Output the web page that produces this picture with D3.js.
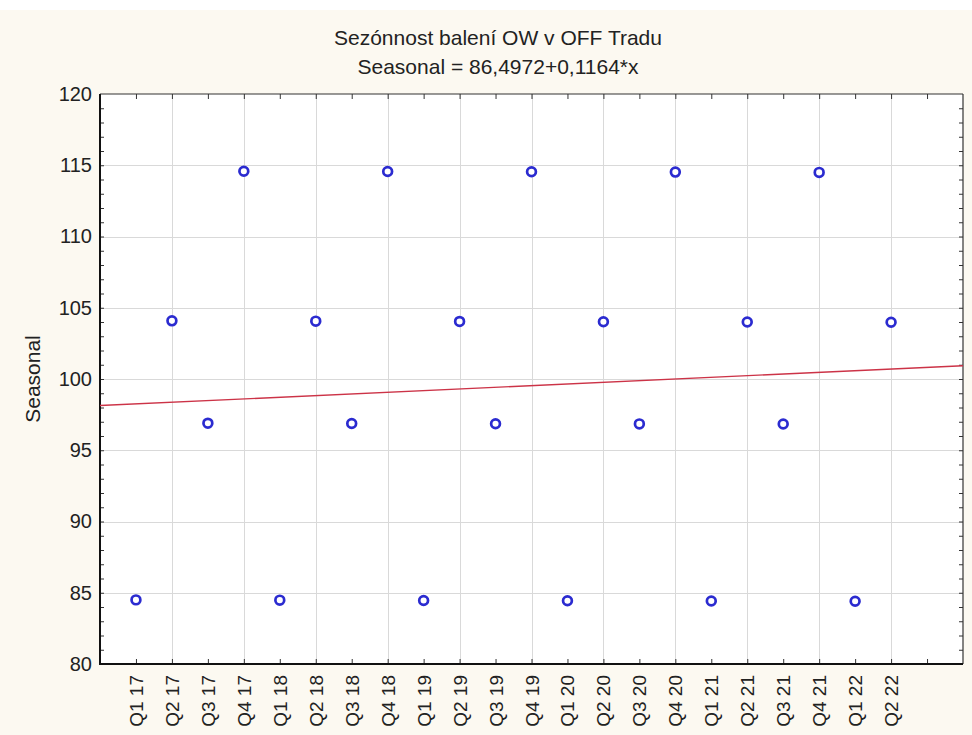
<!DOCTYPE html>
<html>
<head>
<meta charset="utf-8">
<script src="https://cdn.jsdelivr.net/npm/d3@7"></script>
<style>
  html, body { margin: 0; padding: 0; background: #ffffff; }
  svg { display: block; font-family: "Liberation Sans", Arial, sans-serif; }
</style>
</head>
<body>
<svg id="chart" width="972" height="735"></svg>
<script>
// Quarter labels along the x axis
const categories = [
  "Q1 17", "Q2 17", "Q3 17", "Q4 17",
  "Q1 18", "Q2 18", "Q3 18", "Q4 18",
  "Q1 19", "Q2 19", "Q3 19", "Q4 19",
  "Q1 20", "Q2 20", "Q3 20", "Q4 20",
  "Q1 21", "Q2 21", "Q3 21", "Q4 21",
  "Q1 22", "Q2 22"
];

// Seasonal index per quarter
const seasonal = [
  84.50, 104.08, 96.90, 114.58,
  84.48, 104.06, 96.88, 114.56,
  84.46, 104.04, 96.86, 114.54,
  84.44, 104.02, 96.85, 114.52,
  84.42, 104.00, 96.84, 114.50,
  84.40, 103.98
];

// Linear fit: Seasonal = intercept + slope * x, x = case number
const fitIntercept = 86.4972;
const fitSlope = 0.1164;
const caseOffset = 100;   // case number of the slot before the first quarter

const yTicks = [80, 85, 90, 95, 100, 105, 110, 115, 120];
const titleLines = ["Sezónnost balení OW v OFF Tradu", "Seasonal = 86,4972+0,1164*x"];
const yTitle = "Seasonal";

const svg = d3.select("#chart");
const W = 972, H = 735;
const m = { left: 100, right: 963, top: 94, bottom: 664 };

// Page backdrop
svg.append("rect").attr("width", W).attr("height", H).attr("fill", "#ffffff");
svg.append("rect").attr("x", 0).attr("y", 10).attr("width", W).attr("height", H - 10)
  .attr("fill", "#fcf9f1");

const nSlots = categories.length + 2;
const x = d3.scaleLinear().domain([0, nSlots]).range([m.left, m.right]);
const y = d3.scaleLinear().domain([80, 120]).range([m.bottom, m.top]);

// Plot area
svg.append("rect")
  .attr("x", m.left).attr("y", m.top)
  .attr("width", m.right - m.left).attr("height", m.bottom - m.top)
  .attr("fill", "#ffffff");

// Grid
const grid = svg.append("g").attr("stroke", "#d9d9d9").attr("stroke-width", 1);
grid.selectAll("line.h").data(yTicks.slice(1, -1)).join("line")
  .attr("x1", m.left).attr("x2", m.right)
  .attr("y1", d => Math.round(y(d)) + 0.5).attr("y2", d => Math.round(y(d)) + 0.5);
const vGrid = d3.range(2, categories.length + 1, 2);
grid.selectAll("line.v").data(vGrid).join("line")
  .attr("y1", m.top).attr("y2", m.bottom)
  .attr("x1", d => Math.round(x(d)) + 0.5).attr("x2", d => Math.round(x(d)) + 0.5);

// Axes (inward ticks)
const slotTicks = d3.range(1, nSlots);
const minorY = d3.range(81, 120);

const leftAx = svg.append("g").attr("transform", `translate(${m.left},0)`)
  .call(d3.axisLeft(y).tickValues(yTicks).tickSize(0).tickPadding(8).tickFormat(d3.format("d")));
leftAx.select(".domain").remove();
leftAx.selectAll("text").attr("font-size", 20).attr("fill", "#222");

const leftMinor = svg.append("g").attr("transform", `translate(${m.left},0)`)
  .call(d3.axisRight(y).tickValues(minorY).tickSize(4).tickFormat(""));
leftMinor.select(".domain").remove();
const rightMinor = svg.append("g").attr("transform", `translate(${m.right},0)`)
  .call(d3.axisLeft(y).tickValues(minorY).tickSize(4).tickFormat(""));
rightMinor.select(".domain").remove();

const bottomTicks = svg.append("g").attr("transform", `translate(0,${m.bottom})`)
  .call(d3.axisTop(x).tickValues(slotTicks).tickSize(5).tickFormat(""));
bottomTicks.select(".domain").remove();
const topTicks = svg.append("g").attr("transform", `translate(0,${m.top})`)
  .call(d3.axisBottom(x).tickValues(slotTicks).tickSize(5).tickFormat(""));
topTicks.select(".domain").remove();
svg.selectAll(".tick line").attr("stroke", "#333");

// Category labels, rotated
svg.append("g").selectAll("text").data(categories).join("text")
  .attr("transform", (d, i) => `translate(${x(i + 1) + 7},${m.bottom + 11}) rotate(-90)`)
  .attr("text-anchor", "end")
  .attr("font-size", 19)
  .attr("fill", "#222")
  .text(d => d);

// Frame
svg.append("line").attr("x1", m.left).attr("x2", m.right).attr("y1", m.top).attr("y2", m.top)
  .attr("stroke", "#333").attr("stroke-width", 1.2);
svg.append("line").attr("x1", m.right).attr("x2", m.right).attr("y1", m.top).attr("y2", m.bottom)
  .attr("stroke", "#333").attr("stroke-width", 1.2);
svg.append("line").attr("x1", m.left).attr("x2", m.left).attr("y1", m.top).attr("y2", m.bottom + 1)
  .attr("stroke", "#111").attr("stroke-width", 2);
svg.append("line").attr("x1", m.left - 1).attr("x2", m.right).attr("y1", m.bottom).attr("y2", m.bottom)
  .attr("stroke", "#111").attr("stroke-width", 2);

// Trend line
const fit = s => fitIntercept + fitSlope * (s + caseOffset);
svg.append("path")
  .datum([0, nSlots])
  .attr("fill", "none")
  .attr("stroke", "#cc3347")
  .attr("stroke-width", 1.4)
  .attr("d", d3.line().x(s => x(s)).y(s => y(fit(s))));

// Points
svg.append("g").selectAll("circle").data(seasonal).join("circle")
  .attr("cx", (d, i) => x(i + 1))
  .attr("cy", d => y(d))
  .attr("r", 4.4)
  .attr("fill", "#ffffff")
  .attr("stroke", "#2b2bd0")
  .attr("stroke-width", 2.7);

// Titles
svg.append("g").selectAll("text").data(titleLines).join("text")
  .attr("x", 498)
  .attr("y", (d, i) => 45 + i * 29)
  .attr("text-anchor", "middle")
  .attr("font-size", 21)
  .attr("fill", "#222")
  .text(d => d);

svg.append("text")
  .attr("transform", `translate(40,${(m.top + m.bottom) / 2}) rotate(-90)`)
  .attr("text-anchor", "middle")
  .attr("font-size", 21)
  .attr("fill", "#222")
  .text(yTitle);
</script>
</body>
</html>
